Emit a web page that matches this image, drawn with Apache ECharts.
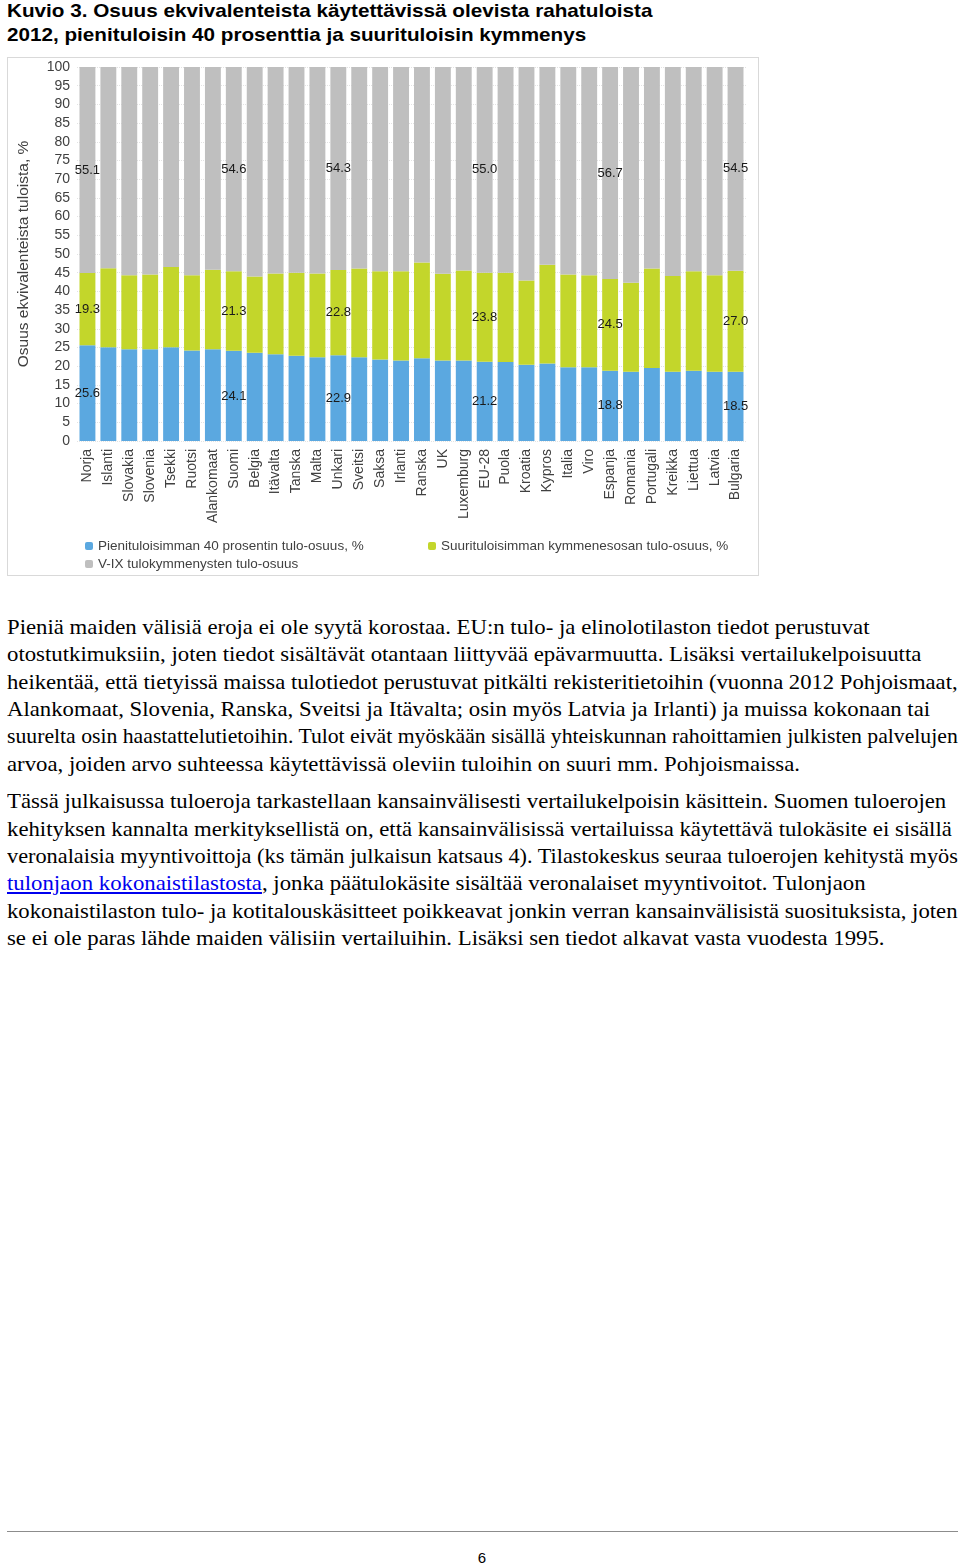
<!DOCTYPE html>
<html>
<head>
<meta charset="utf-8">
<script src="https://cdn.jsdelivr.net/npm/echarts@6/dist/echarts.min.js"></script>
<style>
  body { margin: 0; background: #fff; width: 960px; height: 1565px; position: relative; overflow: hidden; }
  .title { position: absolute; left: 7px; font: bold 19px "Liberation Sans", Arial, sans-serif; color: #000; white-space: nowrap; transform-origin: left center; }
  .line { position: absolute; left: 7px; font: 21px "Liberation Serif", "Times New Roman", serif; color: #000; white-space: nowrap; transform-origin: left center; line-height: 24px; }
  .line a { color: #0000ee; text-decoration: underline; }
  #chart { position: absolute; left: 7px; top: 57px; width: 750px; height: 517px; border: 1px solid #d9d9d9; }
  #rule { position: absolute; left: 7px; top: 1531px; width: 951px; height: 1px; background: #8c8c8c; }
  #page { position: absolute; left: 0; width: 964px; top: 1549px; text-align: center; font: 15px "Liberation Sans", Arial, sans-serif; }
</style>
</head>
<body>
<div class="title" style="top:0px" data-w="645">Kuvio 3. Osuus ekvivalenteista käytettävissä olevista rahatuloista</div>
<div class="title" style="top:24px" data-w="579">2012, pienituloisin 40 prosenttia ja suurituloisin kymmenys</div>
<div id="chart"></div>

<div class="line" style="top:615px" data-w="862">Pieniä maiden välisiä eroja ei ole syytä korostaa. EU:n tulo- ja elinolotilaston tiedot perustuvat</div>
<div class="line" style="top:642px" data-w="914">otostutkimuksiin, joten tiedot sisältävät otantaan liittyvää epävarmuutta. Lisäksi vertailukelpoisuutta</div>
<div class="line" style="top:670px" data-w="951">heikentää, että tietyissä maissa tulotiedot perustuvat pitkälti rekisteritietoihin (vuonna 2012 Pohjoismaat,</div>
<div class="line" style="top:697px" data-w="923">Alankomaat, Slovenia, Ranska, Sveitsi ja Itävalta; osin myös Latvia ja Irlanti) ja muissa kokonaan tai</div>
<div class="line" style="top:724px" data-w="951">suurelta osin haastattelutietoihin. Tulot eivät myöskään sisällä yhteiskunnan rahoittamien julkisten palvelujen</div>
<div class="line" style="top:752px" data-w="793">arvoa, joiden arvo suhteessa käytettävissä oleviin tuloihin on suuri mm. Pohjoismaissa.</div>

<div class="line" style="top:789px" data-w="939">Tässä julkaisussa tuloeroja tarkastellaan kansainvälisesti vertailukelpoisin käsittein. Suomen tuloerojen</div>
<div class="line" style="top:817px" data-w="945">kehityksen kannalta merkityksellistä on, että kansainvälisissä vertailuissa käytettävä tulokäsite ei sisällä</div>
<div class="line" style="top:844px" data-w="951">veronalaisia myyntivoittoja (ks tämän julkaisun katsaus 4). Tilastokeskus seuraa tuloerojen kehitystä myös</div>
<div class="line" style="top:871px" data-w="858"><a>tulonjaon kokonaistilastosta</a>, jonka päätulokäsite sisältää veronalaiset myyntivoitot. Tulonjaon</div>
<div class="line" style="top:899px" data-w="951">kokonaistilaston tulo- ja kotitalouskäsitteet poikkeavat jonkin verran kansainvälisistä suosituksista, joten</div>
<div class="line" style="top:926px" data-w="877">se ei ole paras lähde maiden välisiin vertailuihin. Lisäksi sen tiedot alkavat vasta vuodesta 1995.</div>

<div id="rule"></div>
<div id="page">6</div>

<script type="text/javascript">
  // fit each text line to its width in the original document
  document.querySelectorAll('[data-w]').forEach(function (el) {
    const target = +el.getAttribute('data-w')
    const w = el.scrollWidth
    if (w > 0) el.style.transform = 'scaleX(' + (target / w) + ')'
  })

  const countries = ['Norja', 'Islanti', 'Slovakia', 'Slovenia', 'Tsekki', 'Ruotsi', 'Alankomaat', 'Suomi',
    'Belgia', 'Itävalta', 'Tanska', 'Malta', 'Unkari', 'Sveitsi', 'Saksa', 'Irlanti', 'Ranska', 'UK',
    'Luxemburg', 'EU-28', 'Puola', 'Kroatia', 'Kypros', 'Italia', 'Viro', 'Espanja', 'Romania',
    'Portugali', 'Kreikka', 'Liettua', 'Latvia', 'Bulgaria']
  const bottom40 = [25.6, 25.1, 24.5, 24.5, 25.1, 24.2, 24.5, 24.1, 23.6, 23.2, 22.8, 22.4, 22.9, 22.4, 21.8, 21.5,
    22.1, 21.5, 21.5, 21.2, 21.1, 20.4, 20.7, 19.7, 19.7, 18.8, 18.5, 19.5, 18.5, 18.8, 18.5, 18.5]
  const top10 = [19.3, 21.1, 19.8, 20.0, 21.4, 20.1, 21.3, 21.3, 20.4, 21.6, 22.2, 22.4, 22.8, 23.7, 23.6, 23.9,
    25.6, 23.2, 24.1, 23.8, 23.9, 22.5, 26.4, 24.8, 24.6, 24.5, 23.8, 26.6, 25.6, 26.6, 25.8, 27.0]
  const middle = [55.1, 53.8, 55.7, 55.5, 53.5, 55.7, 54.2, 54.6, 56.0, 55.2, 55.0, 55.2, 54.3, 53.9, 54.6, 54.6,
    52.3, 55.3, 54.4, 55.0, 55.0, 57.1, 52.9, 55.5, 55.7, 56.7, 57.7, 53.9, 55.9, 54.6, 55.7, 54.5]
  const labelled = ['Norja', 'Suomi', 'Unkari', 'EU-28', 'Espanja', 'Bulgaria']
  const yTicks = [0, 100, 5]

  const names = ['Pienituloisimman 40 prosentin tulo-osuus, %', 'Suurituloisimman kymmenesosan tulo-osuus, %',
    'V-IX tulokymmenysten tulo-osuus']
  const colors = ['#5ba8e0', '#c3d62b', '#bfbfbf']
  const font = '"Liberation Sans", Arial, sans-serif'

  function withLabels (values) {
    return values.map(function (v, i) {
      if (labelled.indexOf(countries[i]) >= 0) {
        return {value: v, label: {show: true}}
      }
      return v
    })
  }

  const myChart = echarts.init(document.getElementById('chart'))
  const legendText = {color: '#404040', fontSize: 13.5, fontFamily: font}
  const option = {
    animation: false,
    color: colors,
    grid: {left: 66, right: 12, top: 9, bottom: 134},
    legend: [
      {data: [names[0]], left: 72, top: 476, itemWidth: 8, itemHeight: 8, itemGap: 4, textStyle: legendText},
      {data: [names[1]], left: 415, top: 476, itemWidth: 8, itemHeight: 8, itemGap: 4, textStyle: legendText},
      {data: [names[2]], left: 72, top: 494, itemWidth: 8, itemHeight: 8, itemGap: 4, textStyle: legendText}
    ],
    xAxis: {
      type: 'category',
      data: countries,
      axisLine: {show: false},
      axisTick: {show: false},
      axisLabel: {rotate: 90, margin: 8, interval: 0, color: '#404040', fontSize: 14, fontFamily: font}
    },
    yAxis: {
      type: 'value',
      min: yTicks[0],
      max: yTicks[1],
      interval: yTicks[2],
      name: 'Osuus ekvivalenteista tuloista, %',
      nameLocation: 'middle',
      nameRotate: 90,
      nameGap: 45,
      nameTextStyle: {color: '#404040', fontSize: 15.5, fontFamily: font},
      axisLabel: {margin: 7, color: '#404040', fontSize: 14, fontFamily: font},
      splitLine: {lineStyle: {color: '#e3e3e3', type: 'dotted'}}
    },
    series: [bottom40, top10, middle].map(function (vals, k) {
      return {
        name: names[k],
        type: 'bar',
        stack: 'total',
        barCategoryGap: '24%',
        data: withLabels(vals),
        label: {
          show: false,
          position: 'inside',
          color: '#1a1a1a',
          fontSize: 13,
          fontFamily: font,
          formatter: function (p) { return p.value.toFixed(1) }
        }
      }
    })
  }
  myChart.setOption(option)
</script>
</body>
</html>
